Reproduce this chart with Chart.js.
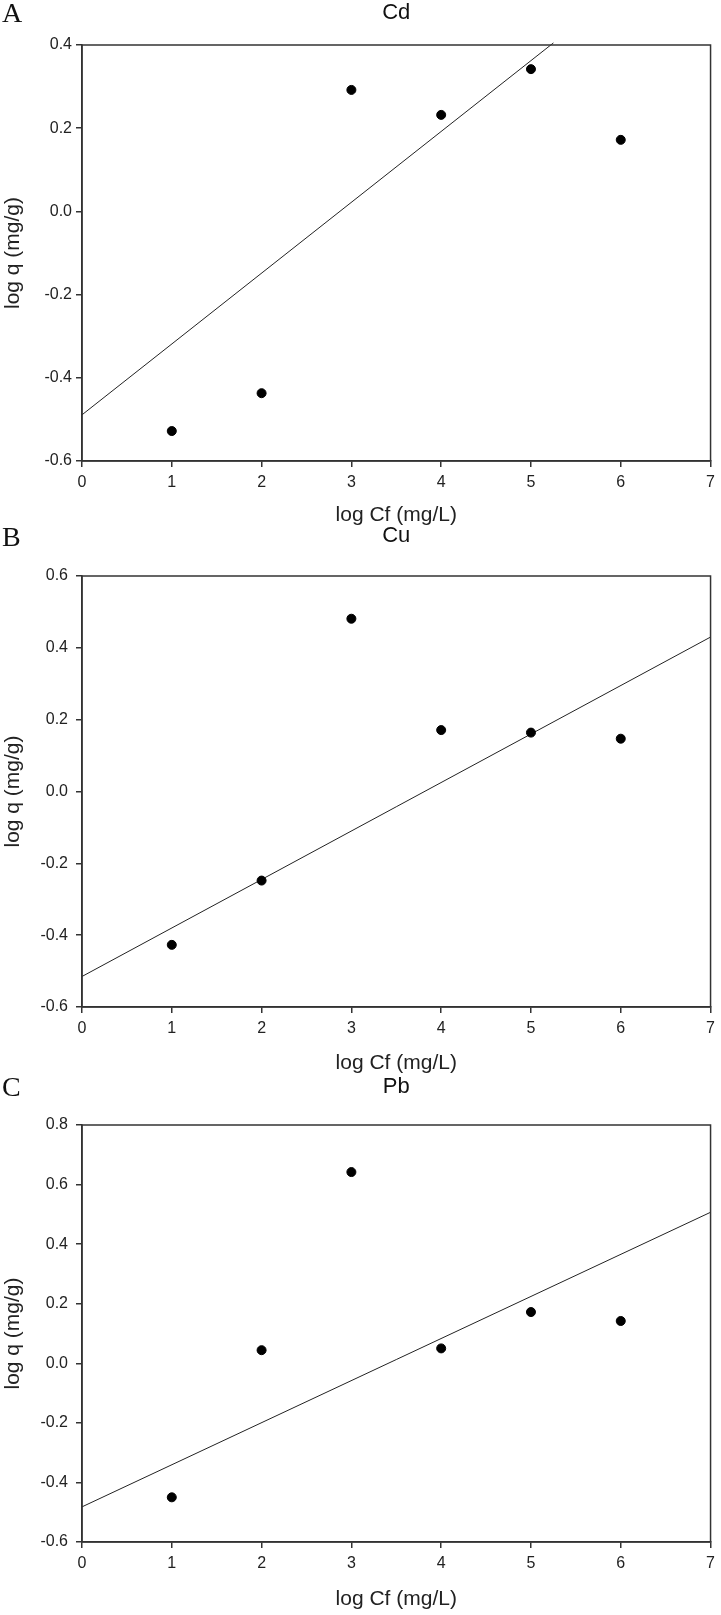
<!DOCTYPE html>
<html>
<head>
<meta charset="utf-8">
<script src="https://cdn.jsdelivr.net/npm/chart.js@4.4.1/dist/chart.umd.min.js"></script>
<style>
    body { margin: 0; background: #fff; }
    #page { position: relative; width: 721px; height: 1615px; }
    .panel { position: absolute; left: 0; }
    .letter {
        position: absolute; left: 2px;
        font-family: 'Liberation Serif', 'Times New Roman', serif;
        font-size: 28px; line-height: 28px; color: #111;
    }
</style>
</head>
<body>
<div id="page">
    <div class="panel" style="top:0px"><canvas id="chartCd"></canvas></div>
    <div class="panel" style="top:510px"><canvas id="chartCu"></canvas></div>
    <div class="panel" style="top:1065px"><canvas id="chartPb"></canvas></div>
    <div class="letter" style="top:-1px">A</div>
    <div class="letter" style="top:523px">B</div>
    <div class="letter" style="top:1073px">C</div>
</div>
<script>
// x positions shared by all three panels
const xValues = [1, 2, 3, 4, 5, 6];

// measured points (log q)
const cdValues = [-0.528, -0.437, 0.292, 0.232, 0.342, 0.172];
const cuValues = [-0.427, -0.248, 0.481, 0.171, 0.164, 0.147];
const pbValues = [-0.450, 0.044, 0.642, 0.050, 0.172, 0.142];

// fitted lines (end points)
const cdFitX = [0, 5.25];
const cdFitY = [-0.489, 0.405];
const cuFitX = [0, 7];
const cuFitY = [-0.515, 0.430];
const pbFitX = [0, 7];
const pbFitY = [-0.482, 0.507];

// axis ranges
const xTicks = [0, 1, 2, 3, 4, 5, 6, 7];
const cdRange = [-0.6, 0.4];
const cuRange = [-0.6, 0.6];
const pbRange = [-0.6, 0.8];

const axisColor = '#333';
const textColor = '#222';
const sans = "'Liberation Sans', Arial, sans-serif";
const narrow = "'Liberation Sans Narrow', 'Liberation Sans', Arial, sans-serif";

// draws the box around the plot area
const framePlugin = {
    id: 'frame',
    afterDraw(chart) {
        const a = chart.chartArea;
        const ctx = chart.ctx;
        ctx.save();
        ctx.strokeStyle = axisColor;
        ctx.lineWidth = 1.5;
        ctx.strokeRect(a.left, a.top, a.right - a.left, a.bottom - a.top);
        ctx.restore();
    }
};

function toPoints(xs, ys) {
    return xs.map((x, i) => ({ x: x, y: ys[i] }));
}

function makeChart(cfg) {
    const canvas = document.getElementById(cfg.id);
    canvas.width = 721;
    canvas.height = cfg.height;
    canvas.style.width = '721px';
    canvas.style.height = cfg.height + 'px';

    new Chart(canvas.getContext('2d'), {
        type: 'scatter',
        data: {
            datasets: [{
                data: toPoints(xValues, cfg.values),
                backgroundColor: '#000',
                borderColor: '#000',
                pointRadius: 4.5,
                pointHoverRadius: 4.5
            }, {
                data: toPoints(cfg.fitX, cfg.fitY),
                showLine: true,
                borderColor: '#222',
                borderWidth: 1,
                pointRadius: 0,
                clip: false
            }]
        },
        plugins: [framePlugin],
        options: {
            responsive: false,
            animation: false,
            events: [],
            layout: { autoPadding: false, padding: { left: 0, right: 4, top: 0, bottom: 0 } },
            plugins: {
                legend: { display: false },
                tooltip: { enabled: false },
                title: {
                    display: true,
                    fullSize: false,
                    text: cfg.title,
                    color: '#111',
                    font: { family: sans, size: 22, weight: 'normal', lineHeight: 1.2 },
                    padding: { top: cfg.titleTop, bottom: cfg.titleBottom }
                }
            },
            scales: {
                x: {
                    type: 'linear',
                    min: xTicks[0],
                    max: xTicks[xTicks.length - 1],
                    afterFit: s => { s.height = cfg.xAxisHeight; },
                    afterBuildTicks: s => { s.ticks = xTicks.map(v => ({ value: v })); },
                    grid: { drawOnChartArea: false, drawTicks: true, tickLength: 6, color: axisColor, lineWidth: 1.5 },
                    border: { display: true, color: axisColor, width: 1.5 },
                    ticks: {
                        color: textColor,
                        padding: 6,
                        font: { family: cfg.tickFont, size: 16 }
                    },
                    title: {
                        display: true,
                        text: 'log Cf (mg/L)',
                        color: textColor,
                        font: { family: sans, size: 21, lineHeight: 1.2 },
                        padding: { top: 0, bottom: cfg.xTitleBottom }
                    }
                },
                y: {
                    type: 'linear',
                    min: cfg.range[0],
                    max: cfg.range[1],
                    afterFit: s => { s.width = 82; },
                    ticks: {
                        stepSize: 0.2,
                        color: textColor,
                        padding: cfg.yTickPad,
                        font: { family: cfg.tickFont, size: 16 },
                        callback: v => v.toFixed(1)
                    },
                    grid: { drawOnChartArea: false, drawTicks: true, tickLength: 6, color: axisColor, lineWidth: 1.5 },
                    border: { display: true, color: axisColor, width: 1.5 },
                    title: {
                        display: true,
                        text: 'log q (mg/g)',
                        color: textColor,
                        font: { family: sans, size: 21, lineHeight: 1.2 },
                        padding: { top: 1, bottom: 0 }
                    }
                }
            }
        }
    });
}

makeChart({
    id: 'chartCd', title: 'Cd', height: 530, values: cdValues,
    fitX: cdFitX, fitY: cdFitY, range: cdRange,
    titleTop: 0, titleBottom: 18.6, xAxisHeight: 69, xTitleBottom: 2.4,
    yTickPad: 4, tickFont: narrow
});

makeChart({
    id: 'chartCu', title: 'Cu', height: 570, values: cuValues,
    fitX: cuFitX, fitY: cuFitY, range: cuRange,
    titleTop: 12.8, titleBottom: 26.8, xAxisHeight: 73, xTitleBottom: 4.4,
    yTickPad: 8, tickFont: sans
});

makeChart({
    id: 'chartPb', title: 'Pb', height: 550, values: pbValues,
    fitX: pbFitX, fitY: pbFitY, range: pbRange,
    titleTop: 8.8, titleBottom: 24.8, xAxisHeight: 73, xTitleBottom: 3.4,
    yTickPad: 8, tickFont: sans
});
</script>
</body>
</html>
